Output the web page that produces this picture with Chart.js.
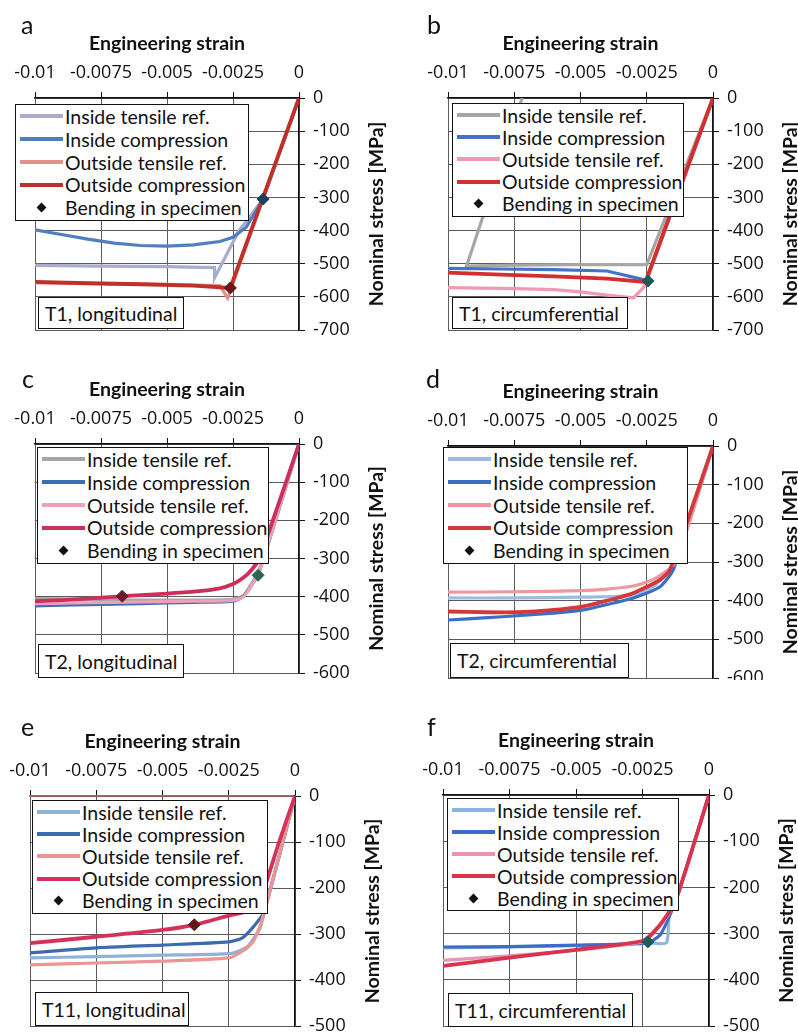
<!DOCTYPE html>
<html>
<head>
<meta charset="utf-8">
<script src="https://cdn.jsdelivr.net/npm/chart.js@4/dist/chart.umd.min.js"></script>
<style>
  html, body { margin: 0; padding: 0; background: #fff; }
  #page { position: relative; width: 798px; height: 1034px; overflow: hidden; font-family: Lato, "Liberation Sans", sans-serif; color: #111; }
  #page canvas { position: absolute; }
  .letter { position: absolute; font-size: 25px; line-height: 1; }
  .legend { position: absolute; background: #fff; border: 1.5px solid #111; box-sizing: border-box; padding: 0 4px 0 4px; }
  .row { display: flex; align-items: center; font-size: 19.5px; white-space: nowrap; }
  .sample { flex: none; width: 43px; height: 4px; margin-right: 2px; display: flex; align-items: center; justify-content: center; }
  .diamond { width: 7px; height: 7px; background: #111; transform: rotate(45deg); }
  .note { position: absolute; background: #fff; border: 1.5px solid #111; box-sizing: border-box; font-size: 19.5px; padding-left: 6px; display: flex; align-items: center; white-space: nowrap; }
</style>
</head>
<body>
<div id="page"></div>
<script>
// ---- shared labels ----
const seriesNames = ['Inside tensile ref.', 'Inside compression', 'Outside tensile ref.', 'Outside compression', 'Bending in specimen'];
const xTickLabels = ['-0.01', '-0.0075', '-0.005', '-0.0025', '0'];
const panelLetters = ['a', 'b', 'c', 'd', 'e', 'f'];
const panelNotes = ['T1, longitudinal', 'T1, circumferential', 'T2, longitudinal', 'T2, circumferential', 'T11, longitudinal', 'T11, circumferential'];
const stressMins = [-700, -700, -600, -600, -500, -500];

// ---- T1 longitudinal ----
const aInTenStrain  = [0, -0.00136, -0.0023, -0.0032, -0.0032, -0.005, -0.0075, -0.01];
const aInTenStress  = [0, -305, -404, -543, -512, -509, -507, -505];
const aInCompStrain = [0, -0.00136, -0.002, -0.0025, -0.003, -0.004, -0.005, -0.006, -0.007, -0.008, -0.009, -0.01];
const aInCompStress = [0, -305, -390, -420, -433, -443, -447, -445, -438, -426, -412, -398];
const aOutTenStrain = [0, -0.0027, -0.003, -0.005, -0.0075, -0.01];
const aOutTenStress = [0, -604, -566, -562, -560, -558];
const aOutCompStrain = [0, -0.0026, -0.004, -0.006, -0.008, -0.01];
const aOutCompStress = [0, -573, -566, -562, -559, -555];
const aBendStrain = [-0.00136, -0.0026];
const aBendStress = [-305, -573];

// ---- T1 circumferential ----
const bInTenStrain  = [0, -0.0025, -0.005, -0.0075, -0.0093, -0.0072];
const bInTenStress  = [0, -503, -503, -504, -507, 0];
const bInCompStrain = [0, -0.0025, -0.004, -0.006, -0.008, -0.01];
const bInCompStress = [0, -550, -522, -518, -516, -514];
const bOutTenStrain = [0, -0.0026, -0.003, -0.004, -0.005, -0.006, -0.0075, -0.01];
const bOutTenStress = [0, -570, -603, -595, -585, -578, -575, -572];
const bOutCompStrain = [0, -0.00255, -0.004, -0.006, -0.008, -0.01];
const bOutCompStress = [0, -555, -545, -538, -533, -527];
const bBendStrain = [-0.00245];
const bBendStress = [-552];

// ---- T2 longitudinal ----
const cInTenStrain  = [0, -0.0015, -0.0018, -0.0021, -0.0025, -0.004, -0.006, -0.008, -0.01];
const cInTenStress  = [0, -335, -372, -398, -407, -409, -409, -407, -405];
const cInCompStrain = [0, -0.0015, -0.0018, -0.0021, -0.0025, -0.004, -0.006, -0.008, -0.01];
const cInCompStress = [0, -330, -368, -398, -412, -415, -418, -421, -424];
const cOutTenStrain = [0, -0.0015, -0.0018, -0.0021, -0.0025, -0.004, -0.006, -0.008, -0.01];
const cOutTenStress = [0, -332, -370, -400, -410, -412, -414, -416, -418];
const cOutCompStrain = [0, -0.0015, -0.0018, -0.0021, -0.0025, -0.003, -0.004, -0.005, -0.006, -0.0067, -0.008, -0.009, -0.01];
const cOutCompStress = [0, -300, -330, -350, -367, -378, -387, -392, -396, -399, -405, -409, -412];
const cBendStrain = [-0.0067, -0.00155];
const cBendStress = [-399, -344];

// ---- T2 circumferential ----
const dInTenStrain  = [0, -0.0015, -0.00174, -0.00226, -0.003, -0.005, -0.0075, -0.01];
const dInTenStress  = [0, -320, -330, -364, -386, -391, -393, -393];
const dInCompStrain = [0, -0.0015, -0.002, -0.003, -0.004, -0.0049, -0.006, -0.0074, -0.0085, -0.01];
const dInCompStress = [0, -320, -364, -393, -410, -424, -432, -439, -444, -450];
const dOutTenStrain = [0, -0.0014, -0.002, -0.0025, -0.003, -0.004, -0.005, -0.0075, -0.01];
const dOutTenStress = [0, -300, -335, -352, -362, -370, -374, -377, -378];
const dOutCompStrain = [0, -0.00162, -0.002, -0.003, -0.004, -0.0049, -0.006, -0.0074, -0.0085, -0.01];
const dOutCompStress = [0, -320, -346, -380, -400, -415, -424, -430, -430, -428];
const dBendStrain = [];
const dBendStress = [];

// ---- T11 longitudinal ----
const eInTenStrain  = [0, -0.0013, -0.00143, -0.0018, -0.0024, -0.005, -0.0075, -0.01];
const eInTenStress  = [0, -285, -298, -328, -342, -346, -349, -352];
const eInCompStrain = [0, -0.0012, -0.00158, -0.002, -0.0025, -0.005, -0.0075, -0.01];
const eInCompStress = [0, -255, -285, -309, -317, -324, -330, -341];
const eOutTenStrain = [0, -0.0013, -0.0016, -0.002, -0.0025, -0.005, -0.0075, -0.01];
const eOutTenStress = [0, -280, -318, -338, -352, -359, -363, -367];
const eOutCompStrain = [0, -0.0006, -0.0011, -0.0014, -0.0018, -0.0025, -0.0038, -0.005, -0.0075, -0.01];
const eOutCompStress = [0, -100, -190, -232, -250, -260, -280, -291, -306, -320];
const eBendStrain = [-0.0038];
const eBendStress = [-280];

// ---- T11 circumferential ----
const fInTenStrain  = [0, -0.0012, -0.0015, -0.0016, -0.0023, -0.005, -0.0075, -0.01];
const fInTenStress  = [0, -220, -265, -320, -320, -326, -329, -331];
const fInCompStrain = [0, -0.0012, -0.0018, -0.0023, -0.005, -0.0075, -0.01];
const fInCompStress = [0, -220, -300, -320, -325, -328, -329];
const fOutTenStrain = [0, -0.0012, -0.0016, -0.0021, -0.0025, -0.005, -0.0075, -0.01];
const fOutTenStress = [0, -220, -265, -300, -318, -336, -348, -358];
const fOutCompStrain = [0, -0.0012, -0.0016, -0.0021, -0.0025, -0.005, -0.0075, -0.01];
const fOutCompStress = [0, -220, -262, -298, -316, -335, -352, -370];
const fBendStrain = [-0.0023];
const fBendStress = [-318];

// ---- panel geometry and styling ----
const TITLE_FONT = 'Lato';
const TICK_FONT = 'Open Sans';
const AXIS_H = 66;
const panels = [
  { left: 0,   top: 0,   w: 399, h: 340, area: { l: 35, r: 299, t: 98,  b: 330 }, tension: 0,
    series: [[aInTenStrain, aInTenStress], [aInCompStrain, aInCompStress], [aOutTenStrain, aOutTenStress], [aOutCompStrain, aOutCompStress]],
    bend: [aBendStrain, aBendStress], bendColors: ['#1d3f66', '#6e1414'],
    colors: ['#a9adcb', '#4f7fbf', '#e6908a', '#c0302b'],
    legend: { x: 15, y: 104, w: 234, h: 117 }, note: { x: 38, y: 297, w: 146, h: 32 }, letter: { x: 21, y: 12 } },
  { left: 399, top: 0,   w: 399, h: 340, area: { l: 49, r: 314, t: 98,  b: 330 }, tension: 0,
    series: [[bInTenStrain, bInTenStress], [bInCompStrain, bInCompStress], [bOutTenStrain, bOutTenStress], [bOutCompStrain, bOutCompStress]],
    bend: [bBendStrain, bBendStress], bendColors: ['#1f5a57'],
    colors: ['#a6a6a6', '#4472c4', '#ee9ab2', '#d42f2f'],
    legend: { x: 452, y: 103, w: 232, h: 114 }, note: { x: 452, y: 297, w: 176, h: 32 }, letter: { x: 427, y: 12 } },
  { left: 0,   top: 340, w: 399, h: 340, area: { l: 35, r: 299, t: 104, b: 338 }, tension: 0.2,
    series: [[cInTenStrain, cInTenStress], [cInCompStrain, cInCompStress], [cOutTenStrain, cOutTenStress], [cOutCompStrain, cOutCompStress]],
    bend: [cBendStrain, cBendStress], bendColors: ['#6e1a2a', '#2a6656'],
    colors: ['#a6a6a6', '#3e6db5', '#f0a0ba', '#cc2f5a'],
    legend: { x: 37, y: 447, w: 232, h: 117 }, note: { x: 38, y: 644, w: 146, h: 34 }, letter: { x: 22, y: 366 } },
  { left: 399, top: 340, w: 399, h: 340, area: { l: 49, r: 314, t: 106, b: 338 }, tension: 0.2,
    series: [[dInTenStrain, dInTenStress], [dInCompStrain, dInCompStress], [dOutTenStrain, dOutTenStress], [dOutCompStrain, dOutCompStress]],
    bend: [dBendStrain, dBendStress], bendColors: [],
    colors: ['#9dbae0', '#3a6fc8', '#ef97a0', '#d23a3a'],
    legend: { x: 443, y: 447, w: 245, h: 117 }, note: { x: 450, y: 643, w: 179, h: 35 }, letter: { x: 426, y: 366 } },
  { left: 0,   top: 680, w: 399, h: 354, area: { l: 30, r: 295, t: 116, b: 346 }, tension: 0.2,
    series: [[eInTenStrain, eInTenStress], [eInCompStrain, eInCompStress], [eOutTenStrain, eOutTenStress], [eOutCompStrain, eOutCompStress]],
    bend: [eBendStrain, eBendStress], bendColors: ['#5e1818'],
    colors: ['#8fb2d6', '#3d6bb0', '#eb9594', '#d5325a'],
    axisColor: '#d9506e',
    legend: { x: 32, y: 800, w: 236, h: 114 }, note: { x: 35, y: 992, w: 154, h: 34 }, letter: { x: 21, y: 714 } },
  { left: 399, top: 680, w: 399, h: 354, area: { l: 44, r: 310, t: 115, b: 346 }, tension: 0.2,
    series: [[fInTenStrain, fInTenStress], [fInCompStrain, fInCompStress], [fOutTenStrain, fOutTenStress], [fOutCompStrain, fOutCompStress]],
    bend: [fBendStrain, fBendStress], bendColors: ['#1e5b5b'],
    colors: ['#8cb4e0', '#3b6cc9', '#e895b5', '#d8344c'],
    legend: { x: 447, y: 798, w: 232, h: 113 }, note: { x: 448, y: 993, w: 185, h: 34 }, letter: { x: 427, y: 714 } }
];
const lineWidths = [3.2, 3.2, 3.2, 3.8];
const drawOrder = [4, 3, 2, 1];

// rotated title beside the right-hand stress axis
const stressTitle = {
  id: 'stressTitle',
  afterDraw(chart, args, opts) {
    const { ctx, chartArea } = chart;
    ctx.save();
    ctx.translate(chartArea.right + 78, (chartArea.top + chartArea.bottom) / 2);
    ctx.rotate(-Math.PI / 2);
    ctx.font = 'bold 19.5px ' + TITLE_FONT;
    ctx.fillStyle = '#111';
    ctx.textAlign = 'center';
    ctx.textBaseline = 'middle';
    ctx.fillText(opts.text, 0, 0);
    ctx.restore();
  }
};

const toPoints = (xs, ys) => xs.map((x, i) => ({ x, y: ys[i] }));
const page = document.getElementById('page');

panels.forEach((p, k) => {
  const canvas = document.createElement('canvas');
  canvas.width = p.w; canvas.height = p.h;
  canvas.style.left = p.left + 'px'; canvas.style.top = p.top + 'px';
  canvas.style.width = p.w + 'px'; canvas.style.height = p.h + 'px';
  page.appendChild(canvas);

  const datasets = p.series.map(([xs, ys], i) => ({
    label: seriesNames[i],
    data: toPoints(xs, ys),
    showLine: true,
    borderColor: p.colors[i],
    backgroundColor: p.colors[i],
    borderWidth: lineWidths[i],
    pointRadius: 0,
    tension: p.tension,
    order: drawOrder[i]
  }));
  datasets.push({
    label: seriesNames[4],
    data: toPoints(p.bend[0], p.bend[1]),
    showLine: false,
    pointStyle: 'rectRot',
    pointRadius: 6,
    backgroundColor: p.bendColors,
    borderColor: p.bendColors,
    order: 0
  });

  new Chart(canvas, {
    type: 'scatter',
    data: { datasets },
    plugins: [stressTitle],
    options: {
      responsive: false,
      animation: false,
      events: [],
      layout: { padding: { left: p.area.l, top: p.area.t - AXIS_H, right: 0, bottom: p.h - p.area.b } },
      plugins: {
        legend: { display: false },
        tooltip: { enabled: false },
        stressTitle: { text: 'Nominal stress [MPa]' }
      },
      scales: {
        x: {
          type: 'linear', position: 'top', min: -0.01, max: 0,
          ticks: { stepSize: 0.0025, maxRotation: 0, autoSkip: false, padding: 8, color: '#111',
                   font: { family: TICK_FONT, size: 18 }, callback: (v, i) => xTickLabels[i] },
          grid: { color: '#5c5c5c', lineWidth: 1, tickColor: '#111', tickLength: 6 },
          border: { color: p.axisColor || '#111', width: 1.4 },
          title: { display: true, text: 'Engineering strain', color: '#111',
                   font: { family: TITLE_FONT, size: 19.5, weight: 'bold' }, padding: { top: 0, bottom: 0 } },
          afterFit: s => { s.height = AXIS_H; s.paddingLeft = 0; s.paddingRight = 0; }
        },
        y: {
          type: 'linear', position: 'right', min: stressMins[k], max: 0,
          ticks: { stepSize: 100, padding: 8, color: '#111', font: { family: TICK_FONT, size: 18 } },
          grid: { color: '#5c5c5c', lineWidth: 1, tickColor: '#111', tickLength: 6 },
          border: { color: '#111', width: 1.4 },
          afterFit: s => { s.width = p.w - p.area.r; s.paddingTop = 0; s.paddingBottom = 0; }
        }
      }
    }
  });

  // legend box
  const lg = document.createElement('div');
  lg.className = 'legend';
  Object.assign(lg.style, { left: p.legend.x + 'px', top: p.legend.y + 'px', width: p.legend.w + 'px', height: p.legend.h + 'px' });
  const rowH = (p.legend.h - 3) / 5;
  seriesNames.forEach((name, i) => {
    const row = document.createElement('div');
    row.className = 'row';
    row.style.height = rowH + 'px';
    const s = document.createElement('span');
    s.className = 'sample';
    if (i < 4) { s.style.background = p.colors[i]; }
    else { s.style.height = rowH + 'px'; const d = document.createElement('span'); d.className = 'diamond'; s.appendChild(d); }
    row.appendChild(s);
    row.appendChild(document.createTextNode(name));
    lg.appendChild(row);
  });
  page.appendChild(lg);

  // specimen note
  const nt = document.createElement('div');
  nt.className = 'note';
  Object.assign(nt.style, { left: p.note.x + 'px', top: p.note.y + 'px', width: p.note.w + 'px', height: p.note.h + 'px' });
  nt.textContent = panelNotes[k];
  page.appendChild(nt);

  // panel letter
  const lt = document.createElement('div');
  lt.className = 'letter';
  Object.assign(lt.style, { left: p.letter.x + 'px', top: p.letter.y + 'px' });
  lt.textContent = panelLetters[k];
  page.appendChild(lt);
});
</script>
</body>
</html>
